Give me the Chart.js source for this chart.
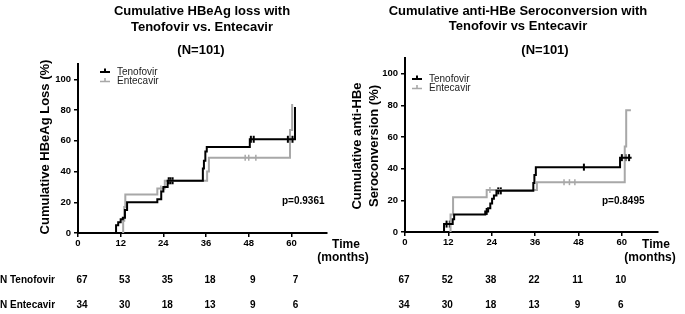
<!DOCTYPE html>
<html><head><meta charset="utf-8">
<script src="https://cdn.jsdelivr.net/npm/chart.js@4/dist/chart.umd.min.js"></script>
<style>
html,body{margin:0;padding:0;background:#fff;}
body{width:685px;height:314px;position:relative;overflow:hidden;}
#c1{position:absolute;left:0;top:0;}
#c2{position:absolute;left:340px;top:0;}
</style></head><body>
<canvas id="c1" width="372" height="314"></canvas>
<canvas id="c2" width="345" height="314"></canvas>
<script>
// ---- shared axis ticks ----
const xTicks = [0, 12, 24, 36, 48, 60];
const yTicks = [0, 20, 40, 60, 80, 100];
const seriesNames = ['Tenofovir', 'Entecavir'];

// ---- Chart 1: cumulative HBeAg loss ----
const loss_tdf_t = [10.5, 10.7, 11.3, 12.0, 12.6, 13.2, 13.8, 22.3, 23.4, 24.0, 25.2, 35.1, 35.4, 35.8, 36.2, 48.3, 61.0];
const loss_tdf_v = [0, 5, 7, 9, 10, 15, 20, 22, 27, 30, 34, 42, 47, 53, 56, 61, 82];
const loss_etv_t = [12.4, 12.7, 13.0, 13.3, 22.3, 24.4, 36.3, 36.8, 59.6, 60.2];
const loss_etv_v = [0, 8, 17, 25, 29, 34, 40, 49, 67, 84];
const loss_tdf_cens_t = [25.5, 26.0, 26.6, 48.6, 49.4, 59.0, 59.6, 60.3];
const loss_tdf_cens_v = [34, 34, 34, 61, 61, 61, 61, 61];
const loss_etv_cens_t = [23.3, 47.0, 48.0, 50.0];
const loss_etv_cens_v = [29, 49, 49, 49];
const loss_risk_tdf = [67, 53, 35, 18, 9, 7];
const loss_risk_etv = [34, 30, 18, 13, 9, 6];
const loss_p = 'p=0.9361';

// ---- Chart 2: cumulative anti-HBe seroconversion ----
const sero_tdf_t = [10.7, 10.8, 13.2, 13.6, 22.2, 23.0, 23.6, 24.1, 24.6, 25.3, 35.5, 35.8, 36.2, 59.5, 62.7];
const sero_tdf_v = [0, 5, 8, 11, 13, 15, 18, 21, 23, 26, 31, 36, 41, 47, 47];
const sero_etv_t = [12.3, 12.6, 13.3, 22.6, 36.5, 60.8, 61.2, 62.5];
const sero_etv_v = [0, 11, 22, 26.5, 31.5, 54, 77, 77];
const sero_tdf_cens_t = [11.5, 12.4, 22.6, 25.8, 26.5, 49.5, 60.0, 61.0, 62.0];
const sero_tdf_cens_v = [5, 5, 13, 26, 26, 41, 47, 47, 47];
const sero_etv_cens_t = [23.5, 44.0, 45.5, 47.0];
const sero_etv_cens_v = [26.5, 31.5, 31.5, 31.5];
const sero_risk_tdf = [67, 52, 38, 22, 11, 10];
const sero_risk_etv = [34, 30, 18, 13, 9, 6];
const sero_p = 'p=0.8495';

const BLACK = '#000000';
const GRAY = '#a8a8a8';
const FONT = '"Liberation Sans", Arial, Helvetica, sans-serif';

function pts(t, v) { return t.map((x, i) => ({ x: x, y: v[i] })); }

function textPlugin(c) {
  return {
    id: 'texts',
    afterDraw(chart) {
      const ctx = chart.ctx;
      const xs = chart.scales.x;
      ctx.save();
      ctx.fillStyle = '#000';
      ctx.textBaseline = 'middle';
      // titles
      ctx.textAlign = 'center';
      ctx.font = 'bold 13px ' + FONT;
      c.title.forEach((l, i) => ctx.fillText(l, c.titleX, c.titleY[i]));
      ctx.fillText('(N=101)', c.nX, 50);
      // y axis title
      ctx.font = 'bold 13px ' + FONT;
      c.yTitle.forEach((l, i) => {
        ctx.save();
        ctx.translate(c.yTitleX[i], c.yTitleY);
        ctx.rotate(-Math.PI / 2);
        ctx.fillText(l, 0, 0);
        ctx.restore();
      });
      // x axis title
      ctx.font = 'bold 12px ' + FONT;
      ctx.fillText('Time', c.timeX, 245);
      ctx.fillText('(months)', c.monthsX, 258);
      // p value
      ctx.textAlign = 'left';
      ctx.font = 'bold 10px ' + FONT;
      ctx.fillText(c.p, c.pX, 201);
      // legend
      ctx.font = '10px ' + FONT;
      ctx.fillStyle = '#222';
      [BLACK, GRAY].forEach((col, i) => {
        const y = c.legY + i * 9.5;
        ctx.strokeStyle = col;
        ctx.lineWidth = i === 0 ? 2 : 1.6;
        ctx.beginPath();
        ctx.moveTo(c.legX, y); ctx.lineTo(c.legX + 10, y);
        ctx.moveTo(c.legX + 5, y); ctx.lineTo(c.legX + 5, y - 3.5);
        ctx.stroke();
        ctx.fillText(seriesNames[i], c.legX + 17, y);
      });
      // numbers at risk
      ctx.fillStyle = '#000';
      ctx.font = 'bold 10px ' + FONT;
      if (c.rowLabels) {
        ctx.textAlign = 'left';
        ctx.fillText('N Tenofovir', 0, 280);
        ctx.fillText('N Entecavir', 0, 305);
      }
      ctx.textAlign = 'center';
      xTicks.forEach((t, i) => {
        const x = xs.getPixelForValue(t) + c.riskOff;
        ctx.fillText(String(c.risk1[i]), x, 280);
        ctx.fillText(String(c.risk2[i]), x, 305);
      });
      ctx.restore();
    }
  };
}

function makeChart(id, d, pad, c) {
  const tickFont = { family: FONT, size: 9.5, weight: 'bold' };
  return new Chart(document.getElementById(id), {
    type: 'line',
    data: {
      datasets: [
        { data: pts(d.t1, d.v1), borderColor: BLACK, borderWidth: 2, stepped: 'before', pointRadius: 0, fill: false },
        { data: pts(d.t2, d.v2), borderColor: GRAY, borderWidth: 2, stepped: 'before', pointRadius: 0, fill: false },
        { data: pts(d.c1t, d.c1v), showLine: false, pointStyle: 'line', rotation: 90, pointRadius: 3.5, borderColor: BLACK, pointBorderWidth: 2 },
        { data: pts(d.c2t, d.c2v), showLine: false, pointStyle: 'line', rotation: 90, pointRadius: 3, borderColor: GRAY, pointBorderWidth: 1.5 }
      ]
    },
    options: {
      responsive: false,
      animation: false,
      events: [],
      layout: { padding: pad },
      plugins: { legend: { display: false }, tooltip: { enabled: false }, title: { display: false } },
      scales: {
        x: {
          type: 'linear', min: 0, max: 70,
          afterBuildTicks: s => { s.ticks = xTicks.map(v => ({ value: v })); },
          afterFit: s => { s.height = 20; },
          grid: { display: true, drawOnChartArea: false, drawTicks: true, tickLength: 4, color: BLACK, lineWidth: 1.5 },
          border: { display: true, color: BLACK, width: 2 },
          ticks: { font: tickFont, color: BLACK, padding: 1, maxRotation: 0, autoSkip: false }
        },
        y: {
          type: 'linear', min: 0, max: 110,
          afterBuildTicks: s => { s.ticks = yTicks.map(v => ({ value: v })); },
          afterFit: s => { s.width = 30; },
          grid: { display: true, drawOnChartArea: false, drawTicks: true, tickLength: 4, color: BLACK, lineWidth: 1.5 },
          border: { display: true, color: BLACK, width: 2 },
          ticks: { font: tickFont, color: BLACK, padding: 3, autoSkip: false }
        }
      }
    },
    plugins: [textPlugin(c)]
  });
}

makeChart('c1',
  { t1: loss_tdf_t, v1: loss_tdf_v, t2: loss_etv_t, v2: loss_etv_v,
    c1t: loss_tdf_cens_t, c1v: loss_tdf_cens_v, c2t: loss_etv_cens_t, c2v: loss_etv_cens_v },
  { left: 48, right: 45, top: 64, bottom: 61 },
  { title: ['Cumulative HBeAg loss with', 'Tenofovir vs. Entecavir'], titleX: 202, titleY: [11, 27], nX: 201,
    yTitle: ['Cumulative HBeAg Loss (%)'], yTitleX: [45], yTitleY: 147,
    timeX: 346, monthsX: 343, p: loss_p, pX: 282, legX: 100, legY: 72,
    risk1: loss_risk_tdf, risk2: loss_risk_etv, riskOff: 4, rowLabels: true });

makeChart('c2',
  { t1: sero_tdf_t, v1: sero_tdf_v, t2: sero_etv_t, v2: sero_etv_v,
    c1t: sero_tdf_cens_t, c1v: sero_tdf_cens_v, c2t: sero_etv_cens_t, c2v: sero_etv_cens_v },
  { left: 35, right: 27, top: 58, bottom: 62 },
  { title: ['Cumulative anti-HBe Seroconversion with', 'Tenofovir vs Entecavir'], titleX: 178, titleY: [11, 26], nX: 205,
    yTitle: ['Cumulative anti-HBe', 'Seroconversion (%)'], yTitleX: [17, 34], yTitleY: 146,
    timeX: 316, monthsX: 310, p: sero_p, pX: 262, legX: 72, legY: 79,
    risk1: sero_risk_tdf, risk2: sero_risk_etv, riskOff: -1, rowLabels: false });
</script>
</body></html>
